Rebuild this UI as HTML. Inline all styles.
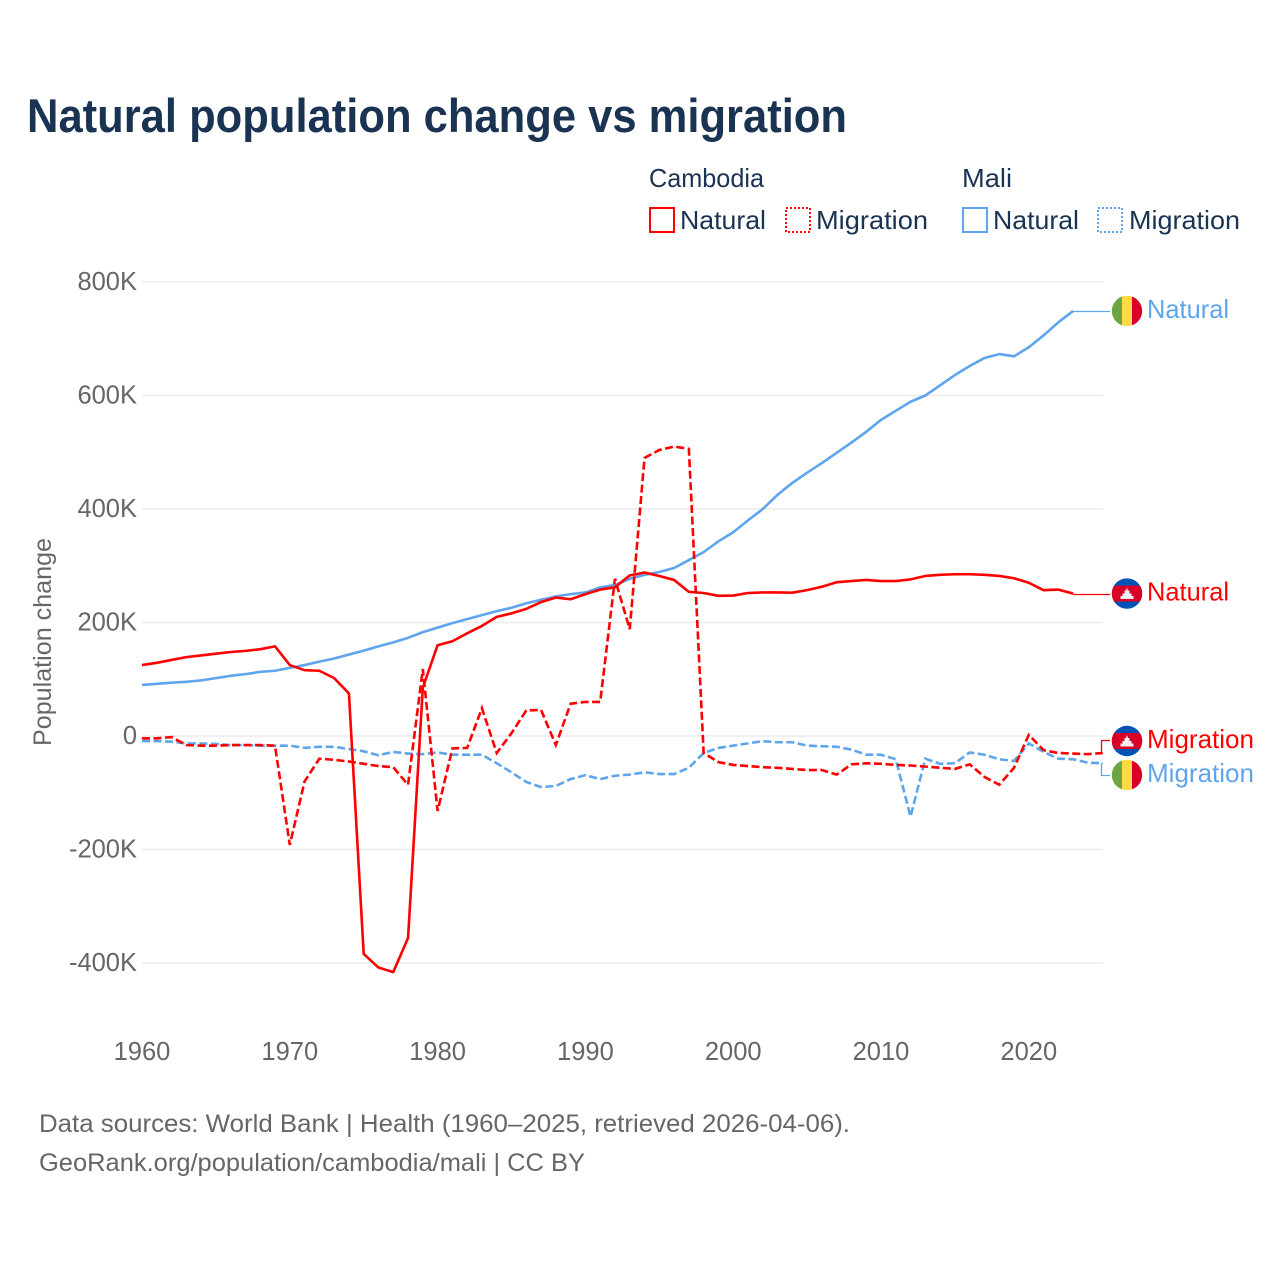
<!DOCTYPE html>
<html lang="en">
<head>
<meta charset="utf-8">
<title>Natural population change vs migration</title>
<style>
html,body{margin:0;padding:0;background:#fff;}
svg{display:block;font-family:"Liberation Sans",sans-serif;}
</style>
</head>
<body>
<svg id="chart" width="1280" height="1280" viewBox="0 0 1280 1280" xmlns="http://www.w3.org/2000/svg">
<defs><clipPath id="flag-clip"><circle cx="0" cy="0" r="15.2"/></clipPath></defs>
<rect width="1280" height="1280" fill="#fff"/>
<text x="27" y="132" font-size="47" font-weight="700" fill="#1a3353" textLength="820" lengthAdjust="spacingAndGlyphs">Natural population change vs migration</text>

<g font-size="26" fill="#1a3353">
<text x="649" y="187" textLength="115" lengthAdjust="spacingAndGlyphs">Cambodia</text>
<text x="962" y="187" textLength="50" lengthAdjust="spacingAndGlyphs">Mali</text>
<g>
<rect x="650" y="208" width="24" height="24" fill="none" stroke="#ff0000" stroke-width="2"/>
<text x="680" y="229" textLength="86" lengthAdjust="spacingAndGlyphs">Natural</text>
</g>
<g>
<rect x="786" y="208" width="24" height="24" fill="none" stroke="#ff0000" stroke-width="2" stroke-dasharray="2 2"/>
<text x="816" y="229" textLength="112" lengthAdjust="spacingAndGlyphs">Migration</text>
</g>
<g>
<rect x="963" y="208" width="24" height="24" fill="none" stroke="#5ea5ee" stroke-width="2"/>
<text x="993" y="229" textLength="86" lengthAdjust="spacingAndGlyphs">Natural</text>
</g>
<g>
<rect x="1098" y="208" width="24" height="24" fill="none" stroke="#5ea5ee" stroke-width="2" stroke-dasharray="2 2"/>
<text x="1129" y="229" textLength="111" lengthAdjust="spacingAndGlyphs">Migration</text>
</g>
</g>

<text transform="translate(51,746) rotate(-90)" font-size="25" fill="#666" textLength="208" lengthAdjust="spacingAndGlyphs">Population change</text>

<g id="grid-layer"></g>
<g id="y-tick-layer"></g>
<g id="x-tick-layer"></g>
<g id="series-layer"></g>

<g id="flag-mali-natural" clip-path="url(#flag-clip)">
<rect x="-16" y="-16" width="11" height="32" fill="#6da544"/><rect x="-5" y="-16" width="10" height="32" fill="#ffda44"/><rect x="5" y="-16" width="11" height="32" fill="#d80027"/>
</g>
<g id="flag-mali-migration" clip-path="url(#flag-clip)">
<rect x="-16" y="-16" width="11" height="32" fill="#6da544"/><rect x="-5" y="-16" width="10" height="32" fill="#ffda44"/><rect x="5" y="-16" width="11" height="32" fill="#d80027"/>
</g>
<g id="flag-cambodia-natural" clip-path="url(#flag-clip)">
<rect x="-16" y="-16" width="32" height="32" fill="#0052b4"/><rect x="-16" y="-8" width="32" height="16" fill="#d80027"/>
<polygon points="-6.5,5.5 -6.5,2.5 -4.5,2.5 -4.5,0 -2.5,0 -2.5,-3 -1,-3 0,-6 1,-3 2.5,-3 2.5,0 4.5,0 4.5,2.5 6.5,2.5 6.5,5.5" fill="#f0f0f0"/>
</g>
<g id="flag-cambodia-migration" clip-path="url(#flag-clip)">
<rect x="-16" y="-16" width="32" height="32" fill="#0052b4"/><rect x="-16" y="-8" width="32" height="16" fill="#d80027"/>
<polygon points="-6.5,5.5 -6.5,2.5 -4.5,2.5 -4.5,0 -2.5,0 -2.5,-3 -1,-3 0,-6 1,-3 2.5,-3 2.5,0 4.5,0 4.5,2.5 6.5,2.5 6.5,5.5" fill="#f0f0f0"/>
</g>

<text id="label-mali-natural" x="1147" y="318" font-size="26" fill="#5ea5ee" textLength="82" lengthAdjust="spacingAndGlyphs">Natural</text>
<text id="label-cambodia-natural" x="1147" y="600" font-size="26" fill="#ff0000" textLength="82" lengthAdjust="spacingAndGlyphs">Natural</text>
<text id="label-cambodia-migration" x="1147" y="748" font-size="26" fill="#ff0000" textLength="107" lengthAdjust="spacingAndGlyphs">Migration</text>
<text id="label-mali-migration" x="1147" y="782" font-size="26" fill="#5ea5ee" textLength="107" lengthAdjust="spacingAndGlyphs">Migration</text>

<text x="39" y="1132" font-size="25" fill="#666" textLength="811" lengthAdjust="spacingAndGlyphs">Data sources: World Bank | Health (1960–2025, retrieved 2026-04-06).</text>
<text x="39" y="1171" font-size="25" fill="#666" textLength="546" lengthAdjust="spacingAndGlyphs">GeoRank.org/population/cambodia/mali | CC BY</text>
</svg>

<script>
const startYear = 1960;
const yTickValues = [800, 600, 400, 200, 0, -200, -400];
const yTickLabels = ["800K", "600K", "400K", "200K", "0", "-200K", "-400K"];
const xTickYears = [1960, 1970, 1980, 1990, 2000, 2010, 2020];

const cambodiaNatural = [125,129,134,139,142,145,148,150,153,158,125,116,115,102,75,-384,-408,-416,-356,85,160,167,181,194,210,216,224,236,244,241,250,258,262,283,288,282,275,254,252,247,247.5,252,253,253,252.5,257,263,271,273,275,273,273,276,282,284,285,285,284,282,278,270,257,258,251];
const maliNatural = [90,92,94,95.5,98,102,106,109,113,115,120,125,131,136.5,143.5,150.5,158,165,173,183,191,199,206,213,220,226,234,240,246,250,253,262,266,277,284,289,296,310,324,343,359,380,400,425,446,464,481,499,517,536,557,573,589,600,618,636,652,666,673,669,685,706,729,749];
const cambodiaMigration = [-4,-4,-2,-16,-17,-17,-16,-16,-16,-17,-192,-80,-40,-42,-45,-49,-53,-55,-86,118,-132,-22,-21,49,-30,5,45,46,-16,57,60,60,277,188,490,504,510,506,-30,-46,-51,-53,-55,-56,-58,-60,-60,-68,-50,-48,-49,-51,-52,-54,-56,-58,-50,-72,-86,-56,2,-25,-30,-31,-32,-30];
const maliMigration = [-9,-9,-10,-13,-13,-14,-16,-16,-17,-17,-17,-21,-19,-19,-23,-27,-34,-28,-31,-32,-29,-33,-33,-33,-48,-64,-81,-90,-88,-76,-69,-76,-70,-68,-64,-67,-67,-56,-30,-21,-17,-13,-9,-11,-11,-17,-18,-19,-24,-33,-33,-41,-142,-40,-49,-48,-29,-33,-41,-44,-13,-28,-40,-41,-47,-48];

const SVG_NS = "http://www.w3.org/2000/svg";
const RED = "#ff0000";
const BLUE = "#5ea5ee";
function xScale(year) { return 142 + (year - 1960) * 14.78; }
function yScale(value) { return 736 - value * 0.5675; }
function make(parent, tag, attrs, text) {
  const node = document.createElementNS(SVG_NS, tag);
  Object.keys(attrs).forEach(function (k) { node.setAttribute(k, attrs[k]); });
  if (text !== undefined) node.textContent = text;
  parent.appendChild(node);
  return node;
}
function linePath(values) {
  return values.map(function (v, i) {
    return (i ? "L" : "M") + xScale(startYear + i).toFixed(2) + " " + yScale(v).toFixed(2);
  }).join(" ");
}

const gridLayer = document.getElementById("grid-layer");
const yTickLayer = document.getElementById("y-tick-layer");
const xTickLayer = document.getElementById("x-tick-layer");
const seriesLayer = document.getElementById("series-layer");

yTickValues.forEach(function (v, i) {
  const grid = make(gridLayer, "line", { x1: 142, x2: 1103, y1: yScale(v), y2: yScale(v), stroke: "#ebebeb", "stroke-width": 1.4 });
  
  
  const label = make(yTickLayer, "text", { x: 137, y: yScale(v) + 8, "text-anchor": "end", "font-size": 25.5, fill: "#666" }, yTickLabels[i]);
  
  
});

xTickYears.forEach(function (year) {
  const label = make(xTickLayer, "text", { x: xScale(year), y: 1060, "text-anchor": "middle", "font-size": 25.5, fill: "#666" }, String(year));
  
  
});

const maliNaturalLine = make(seriesLayer, "path", { d: linePath(maliNatural), fill: "none", stroke: BLUE, "stroke-width": 2.6, "stroke-linejoin": "round" });



const maliMigrationLine = make(seriesLayer, "path", { d: linePath(maliMigration), fill: "none", stroke: BLUE, "stroke-width": 2.6, "stroke-dasharray": "8 3.5" });



const cambodiaNaturalLine = make(seriesLayer, "path", { d: linePath(cambodiaNatural), fill: "none", stroke: RED, "stroke-width": 2.6, "stroke-linejoin": "round" });



const cambodiaMigrationLine = make(seriesLayer, "path", { d: linePath(cambodiaMigration), fill: "none", stroke: RED, "stroke-width": 2.6, "stroke-dasharray": "8 3.5" });



function lastX(values) { return xScale(startYear + values.length - 1); }
function lastY(values) { return yScale(values[values.length - 1]); }
function crisp(y) { return Math.round(y) + 0.5; }

const naturalLeaderMali = make(seriesLayer, "path", { d: "M" + lastX(maliNatural) + " " + crisp(lastY(maliNatural)) + " H1110", fill: "none", stroke: BLUE, "stroke-width": 1.3 });



const naturalLeaderCambodia = make(seriesLayer, "path", { d: "M" + lastX(cambodiaNatural) + " " + crisp(lastY(cambodiaNatural)) + " H1110", fill: "none", stroke: RED, "stroke-width": 1.3 });



const migrationLeaderCambodia = make(seriesLayer, "path", { d: "M" + lastX(cambodiaMigration) + " " + crisp(lastY(cambodiaMigration)) + " H1101.5 V740.5 H1110", fill: "none", stroke: RED, "stroke-width": 1.3 });



const migrationLeaderMali = make(seriesLayer, "path", { d: "M" + lastX(maliMigration) + " " + crisp(lastY(maliMigration)) + " H1101.5 V775.5 H1110", fill: "none", stroke: BLUE, "stroke-width": 1.3 });



document.getElementById("flag-mali-natural").setAttribute("transform", "translate(1127," + lastY(maliNatural) + ")");
document.getElementById("label-mali-natural").setAttribute("y", lastY(maliNatural) + 7);
document.getElementById("flag-cambodia-natural").setAttribute("transform", "translate(1127," + lastY(cambodiaNatural) + ")");
document.getElementById("label-cambodia-natural").setAttribute("y", lastY(cambodiaNatural) + 7);
document.getElementById("flag-cambodia-migration").setAttribute("transform", "translate(1127,741)");
document.getElementById("flag-mali-migration").setAttribute("transform", "translate(1127,775)");
</script>
</body>
</html>
